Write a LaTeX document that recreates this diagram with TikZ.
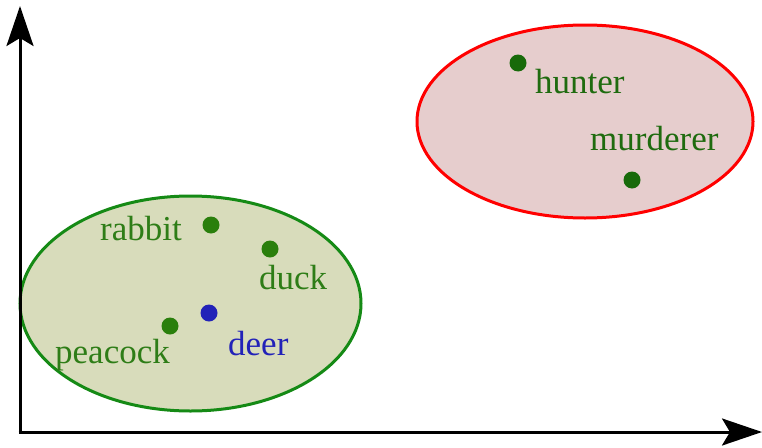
\documentclass[tikz,border=0pt]{standalone}
\usepackage{fontspec}
\setmainfont{Liberation Serif}
\usetikzlibrary{arrows.meta}
\definecolor{gfill}{HTML}{D8DCBB}
\definecolor{gline}{HTML}{158A15}
\definecolor{rfill}{HTML}{E6CDCD}
\definecolor{rline}{HTML}{FF0000}
\definecolor{gtext}{HTML}{2E7D17}
\definecolor{gdot}{HTML}{2A7F0C}
\definecolor{dtext}{HTML}{1F6B0F}
\definecolor{ddot}{HTML}{186A0A}
\definecolor{btext}{HTML}{2222B8}
\tikzset{
  dot/.style={circle,inner sep=0pt,minimum size=17pt},
  lbl/.style={anchor=base west,inner sep=0pt,font=\fontsize{35}{40}\selectfont},
  axis/.style={line width=3pt,-{Stealth[length=40pt,width=27pt,inset=8pt]}},
  cluster/.style={line width=3pt}
}
\begin{document}
\begin{tikzpicture}[x=1pt,y=-1pt]
\useasboundingbox (0,0) rectangle (762,447);
% clusters
\filldraw[cluster,fill=gfill,draw=gline] (190.5,303.5) ellipse [x radius=170.5,y radius=107.5];
\filldraw[cluster,fill=rfill,draw=rline] (585,121.5) ellipse [x radius=168,y radius=96.5];
% axes
\coordinate (O) at (20,432);
\coordinate (Ytip) at (20,6);
\coordinate (Xtip) at (762,432);
\draw[axis] (20,433.5) -- (Ytip);
\draw[axis] (18.5,432) -- (Xtip);
% points
\node[dot,fill=gdot] (rabbit) at (211,225) {};
\node[dot,fill=gdot] (duck) at (270,249) {};
\node[dot,fill=gdot] (peacock) at (170,326) {};
\node[dot,fill=btext] (deer) at (209,313) {};
\node[dot,fill=ddot] (hunter) at (518,63) {};
\node[dot,fill=ddot] (murderer) at (632,180) {};
% labels
\node[lbl,text=gtext] (lrabbit) at (100,240) {rabbit};
\node[lbl,text=gtext] (lduck) at (259,289) {duck};
\node[lbl,text=gtext] (lpeacock) at (55,363) {peacock};
\node[lbl,text=btext] (ldeer) at (228,355) {deer};
\node[lbl,text=dtext] (lhunter) at (535,93) {hunter};
\node[lbl,text=dtext] (lmurderer) at (590,150) {murderer};
\end{tikzpicture}
\end{document}
